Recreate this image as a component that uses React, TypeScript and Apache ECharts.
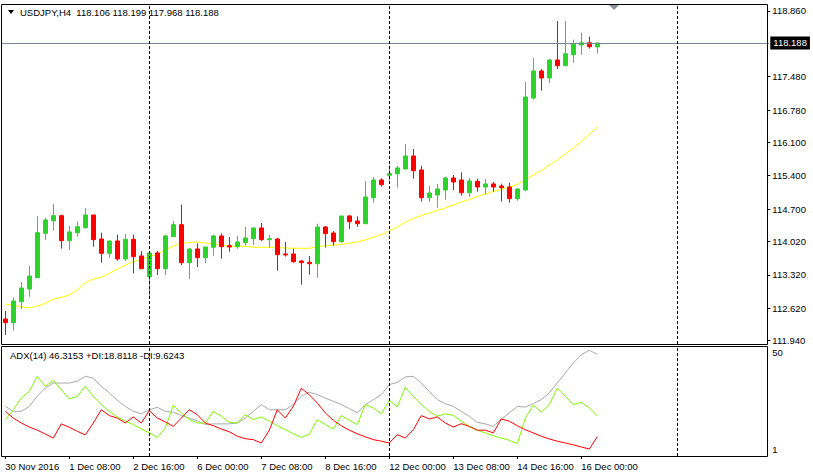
import React, { useEffect, useRef } from 'react';
import * as echarts from 'echarts';

const symbolName = 'USDJPY';
const timeframe = 'H4';
const FONT = '"Liberation Sans", Arial, sans-serif';

// trading days (H4 bars, 6 per day); the last days are the empty "shift" area
const sessionDays = ['30 Nov', '1 Dec', '2 Dec', '5 Dec', '6 Dec', '7 Dec', '8 Dec', '9 Dec', '12 Dec', '13 Dec', '14 Dec', '15 Dec', '16 Dec', '17 Dec', '18 Dec', '19 Dec'];
const barHours = ['00:00', '04:00', '08:00', '12:00', '16:00', '20:00'];
const firstLabel = '30 Nov 2016';
const separators = ['5 Dec 00:00', '12 Dec 00:00', '18 Dec 00:00'];

const opens = [112.391, 112.314, 112.755, 113.021, 113.259, 114.191, 114.456, 114.561, 114.036, 114.204, 114.309, 114.576, 114.072, 113.771, 114.030, 113.652, 114.065, 113.715, 113.280, 113.778, 113.448, 114.120, 114.372, 113.574, 113.862, 113.679, 113.897, 114.135, 113.931, 113.910, 113.994, 114.078, 114.303, 114.057, 114.072, 113.757, 113.757, 113.609, 113.582, 113.553, 114.324, 114.198, 114.015, 114.555, 114.450, 114.393, 114.939, 115.311, 115.409, 115.443, 115.542, 115.815, 115.521, 114.939, 114.996, 115.101, 115.353, 115.311, 115.044, 115.283, 115.164, 115.227, 115.185, 115.164, 114.918, 115.101, 117.033, 117.600, 117.453, 117.831, 117.711, 117.942, 118.146, 118.194, 118.106];
const highs = [112.559, 112.839, 113.168, 113.504, 114.555, 114.513, 114.807, 114.582, 114.345, 114.443, 114.723, 114.580, 114.204, 114.036, 114.162, 114.177, 114.162, 113.820, 113.778, 113.820, 114.162, 114.450, 114.792, 113.889, 113.981, 113.904, 114.156, 114.191, 114.113, 114.135, 114.324, 114.303, 114.408, 114.162, 114.093, 114.009, 113.868, 113.631, 113.715, 114.393, 114.345, 114.240, 114.555, 114.576, 114.548, 115.290, 115.374, 115.346, 115.626, 115.605, 116.067, 115.962, 115.611, 115.185, 115.227, 115.380, 115.416, 115.472, 115.353, 115.338, 115.332, 115.269, 115.233, 115.254, 115.136, 117.369, 117.873, 117.642, 117.852, 118.650, 118.650, 118.257, 118.404, 118.320, 118.199];
const lows = [112.055, 112.146, 112.595, 112.860, 113.259, 114.051, 114.246, 113.868, 113.841, 114.120, 114.288, 113.910, 113.574, 113.679, 113.616, 113.609, 113.351, 113.448, 112.826, 113.315, 113.315, 114.120, 113.525, 113.231, 113.483, 113.561, 113.721, 113.658, 113.805, 113.868, 113.931, 113.946, 114.030, 113.889, 113.406, 113.700, 113.574, 113.112, 113.322, 113.259, 113.889, 113.931, 113.994, 114.282, 114.324, 114.393, 114.834, 115.170, 115.311, 115.149, 115.527, 115.338, 114.855, 114.855, 114.729, 114.891, 115.101, 114.981, 114.960, 115.065, 115.010, 115.065, 114.855, 114.834, 114.876, 115.080, 116.997, 117.186, 117.348, 117.642, 117.711, 117.774, 117.942, 118.068, 117.968];
const closes = [112.314, 112.769, 113.042, 113.294, 114.204, 114.471, 114.561, 114.036, 114.219, 114.330, 114.576, 114.057, 113.771, 114.030, 113.652, 114.065, 113.700, 113.448, 113.778, 113.448, 114.135, 114.372, 113.574, 113.862, 113.679, 113.904, 114.135, 113.910, 113.904, 114.009, 114.093, 114.303, 114.057, 114.078, 113.742, 113.736, 113.595, 113.574, 113.553, 114.324, 114.183, 114.015, 114.555, 114.435, 114.393, 114.954, 115.311, 115.212, 115.443, 115.563, 115.815, 115.506, 114.939, 115.038, 115.122, 115.353, 115.269, 115.044, 115.290, 115.164, 115.227, 115.164, 115.149, 114.918, 115.122, 117.054, 117.600, 117.453, 117.831, 117.711, 117.963, 118.167, 118.194, 118.110, 118.188];

const movingAverage = [112.706, 112.679, 112.650, 112.622, 112.664, 112.721, 112.805, 112.847, 112.895, 113.000, 113.154, 113.231, 113.267, 113.351, 113.435, 113.525, 113.595, 113.645, 113.700, 113.757, 113.841, 113.925, 113.981, 113.994, 114.009, 113.988, 113.967, 113.939, 113.925, 113.918, 113.918, 113.897, 113.897, 113.897, 113.889, 113.883, 113.876, 113.876, 113.876, 113.910, 113.931, 113.946, 113.960, 113.981, 114.009, 114.051, 114.107, 114.162, 114.240, 114.330, 114.422, 114.502, 114.565, 114.618, 114.670, 114.723, 114.786, 114.849, 114.901, 114.964, 115.017, 115.069, 115.111, 115.164, 115.216, 115.311, 115.416, 115.510, 115.626, 115.731, 115.857, 115.983, 116.119, 116.266, 116.424];

const priceTicks = [111.94, 112.62, 113.32, 114.02, 114.7, 115.4, 116.1, 116.78, 117.48, 118.86];

const adx = [23.1, 20.9, 20.9, 23.1, 27.6, 31.3, 33.5, 33.5, 33.5, 34.3, 36.5, 35.7, 32.0, 29.1, 25.8, 23.1, 20.9, 19.8, 21.6, 22.7, 20.9, 20.5, 19.1, 17.9, 16.7, 15.0, 15.3, 15.3, 15.3, 15.7, 17.9, 20.9, 23.9, 21.6, 21.6, 21.6, 23.9, 27.6, 29.4, 28.3, 26.8, 25.4, 23.9, 22.1, 20.2, 23.9, 26.1, 28.3, 32.8, 33.8, 36.2, 36.5, 33.5, 29.8, 26.1, 24.3, 23.1, 20.9, 18.7, 16.0, 15.3, 14.2, 17.5, 20.2, 23.1, 22.8, 24.3, 26.1, 29.1, 33.5, 38.0, 42.4, 46.1, 48.1, 46.3153];
const plusDI = [17.2, 21.6, 26.8, 29.8, 36.5, 32.0, 34.7, 30.5, 26.4, 27.6, 32.0, 27.6, 23.9, 20.9, 18.4, 16.5, 15.0, 13.0, 11.3, 9.3, 13.5, 23.6, 20.2, 17.2, 15.7, 15.7, 20.9, 18.7, 16.0, 15.7, 19.4, 17.2, 18.4, 16.5, 14.5, 12.7, 10.9, 9.3, 10.7, 17.2, 15.0, 13.0, 19.0, 16.9, 15.0, 23.9, 22.4, 19.8, 25.8, 22.8, 31.6, 27.6, 23.9, 20.9, 18.7, 19.8, 19.1, 16.5, 14.2, 12.5, 11.3, 10.0, 9.0, 8.0, 6.5, 17.9, 23.6, 20.6, 23.9, 31.3, 27.6, 23.9, 24.9, 22.4, 18.8118];
const minusDI = [20.9, 17.9, 15.7, 13.9, 12.5, 10.8, 9.0, 15.3, 13.8, 12.0, 10.4, 15.7, 21.6, 19.0, 17.9, 15.7, 18.4, 15.7, 21.2, 17.9, 16.2, 14.2, 17.9, 21.6, 19.4, 15.7, 14.5, 13.0, 11.8, 9.8, 8.7, 8.3, 6.8, 12.5, 21.6, 17.9, 23.1, 31.2, 28.3, 24.6, 20.2, 16.9, 14.5, 12.5, 10.9, 9.5, 8.3, 7.6, 6.8, 10.5, 9.0, 12.7, 19.0, 17.5, 18.4, 15.7, 13.9, 15.4, 14.2, 12.5, 12.5, 11.3, 17.5, 16.5, 14.5, 12.7, 11.3, 9.8, 8.6, 7.6, 6.8, 6.0, 5.0, 4.1, 9.6243];
const adxPeriod = 14;
const adxTicks = [1, 50];

const BULL = '#2dd22d';
const BEAR = '#ff0000';

function buildOption() {
  const categories: string[] = [];
  sessionDays.forEach((d) => barHours.forEach((h) => categories.push(`${d} ${h}`)));
  const candles = opens.map((o, i) => [o, closes[i], lows[i], highs[i]]);
  const n = closes.length;
  const last = n - 1;
  const showIdx = (i: number) => i % 8 === 0 && i < n;
  const sepLine = { type: [3, 2], color: '#000', width: 1 };
  const sepData = separators.map((s) => ({ xAxis: s, lineStyle: sepLine, label: { show: false } }));

  const textBase = { fontFamily: FONT, fontSize: 9.5, fill: '#000' };

  return {
    animation: false,
    backgroundColor: '#ffffff',
    grid: [
      { left: 1.3, top: 4, width: 768, height: 340, show: false },
      { left: 1.3, top: 346, width: 768, height: 110, show: false },
    ],
    xAxis: [
      {
        type: 'category', gridIndex: 0, data: categories, boundaryGap: true,
        axisLine: { show: false }, axisTick: { show: false }, axisLabel: { show: false }, splitLine: { show: false },
      },
      {
        type: 'category', gridIndex: 1, data: categories, boundaryGap: true,
        axisLine: { show: false },
        axisTick: { show: true, alignWithLabel: true, interval: (i: number) => showIdx(i), length: 3, lineStyle: { color: '#000' } },
        axisLabel: {
          show: true, interval: (i: number) => showIdx(i), align: 'left', margin: 5,
          fontFamily: FONT, fontSize: 9.5, color: '#000',
          formatter: (v: string, i: number) => (i === 0 ? firstLabel : v),
        },
        splitLine: { show: false },
      },
    ],
    yAxis: [
      {
        type: 'value', gridIndex: 0, position: 'right', offset: -2, min: 111.866, max: 119.007, scale: true,
        axisLine: { show: false },
        axisTick: { show: true, customValues: priceTicks, length: 3, lineStyle: { color: '#000' } },
        axisLabel: { show: true, customValues: priceTicks, margin: 5, fontFamily: FONT, fontSize: 9.5, color: '#000', formatter: (v: number) => v.toFixed(3) },
        splitLine: { show: false },
      },
      {
        type: 'value', gridIndex: 1, position: 'right', offset: -2, min: 1, max: 50,
        axisLine: { show: false },
        axisTick: { show: false },
        axisLabel: {
          show: true, customValues: adxTicks, margin: 5, fontFamily: FONT, fontSize: 9.5, color: '#000',
          formatter: (v: number) => (v === adxTicks[1] ? `{t|${v}}` : `{b|${v}}`),
          rich: { t: { padding: [13, 0, 0, 0], fontFamily: FONT, fontSize: 9.5 }, b: { padding: [0, 0, 13, 0], fontFamily: FONT, fontSize: 9.5 } },
        },
        splitLine: { show: false },
      },
    ],
    series: [
      {
        type: 'candlestick', xAxisIndex: 0, yAxisIndex: 0, data: candles, barWidth: 4,
        itemStyle: { color: BULL, color0: BEAR, borderColor: BULL, borderColor0: BEAR, borderWidth: 1 },
        markLine: {
          silent: true, symbol: ['none', 'none'], animation: false,
          data: [
            {
              yAxis: closes[last],
              lineStyle: { type: 'solid', color: '#778899', width: 1 },
              label: {
                show: true, position: 'end', distance: 1, formatter: () => closes[last].toFixed(3),
                backgroundColor: '#000', color: '#fff', padding: [2, 3, 1, 3], fontFamily: FONT, fontSize: 9.5,
              },
            },
            ...sepData,
          ],
        },
      },
      {
        type: 'line', name: 'MA', xAxisIndex: 0, yAxisIndex: 0, data: movingAverage, showSymbol: false, symbol: 'none',
        lineStyle: { color: '#ffff00', width: 1 }, z: 1,
      },
      {
        type: 'line', name: 'ADX', xAxisIndex: 1, yAxisIndex: 1, data: adx, showSymbol: false, symbol: 'none',
        lineStyle: { color: '#a9a9a9', width: 1 },
        markLine: { silent: true, symbol: ['none', 'none'], animation: false, data: sepData },
      },
      {
        type: 'line', name: '+DI', xAxisIndex: 1, yAxisIndex: 1, data: plusDI, showSymbol: false, symbol: 'none',
        lineStyle: { color: '#7cfc00', width: 1 },
      },
      {
        type: 'line', name: '-DI', xAxisIndex: 1, yAxisIndex: 1, data: minusDI, showSymbol: false, symbol: 'none',
        lineStyle: { color: '#ff0000', width: 1 },
      },
    ],
    graphic: [
      { type: 'rect', shape: { x: 1.5, y: 4.5, width: 766, height: 340 }, style: { fill: 'none', stroke: '#000', lineWidth: 1 }, silent: true, z: 100 },
      { type: 'rect', shape: { x: 1.5, y: 346.5, width: 766, height: 110 }, style: { fill: 'none', stroke: '#000', lineWidth: 1 }, silent: true, z: 100 },
      { type: 'polygon', shape: { points: [[8, 10], [14, 10], [11, 14]] }, style: { fill: '#000' }, silent: true },
      {
        type: 'text', x: 20, y: 12.5, silent: true,
        style: {
          ...textBase, verticalAlign: 'middle',
          text: `${symbolName},${timeframe}  ${opens[last].toFixed(3)} ${highs[last].toFixed(3)} ${lows[last].toFixed(3)} ${closes[last].toFixed(3)}`,
        },
      },
      {
        type: 'text', x: 10, y: 355, silent: true,
        style: {
          ...textBase, verticalAlign: 'middle',
          text: `ADX(${adxPeriod}) ${adx[last].toFixed(4)} +DI:${plusDI[last].toFixed(4)} -DI:${minusDI[last].toFixed(4)}`,
        },
      },
      { type: 'polygon', shape: { points: [[609, 5], [619, 5], [614, 10]] }, style: { fill: '#8a919a' }, silent: true },
    ],
  };
}

export default function App() {
  const ref = useRef<HTMLDivElement>(null);
  useEffect(() => {
    if (!ref.current) return;
    const chart = echarts.init(ref.current, null, { renderer: 'svg', width: 813, height: 475 });
    chart.setOption(buildOption() as any);
    return () => chart.dispose();
  }, []);
  return (
    <div
      ref={ref}
      style={{ position: 'fixed', left: 0, top: 0, width: 813, height: 475, background: '#fff' }}
    />
  );
}
